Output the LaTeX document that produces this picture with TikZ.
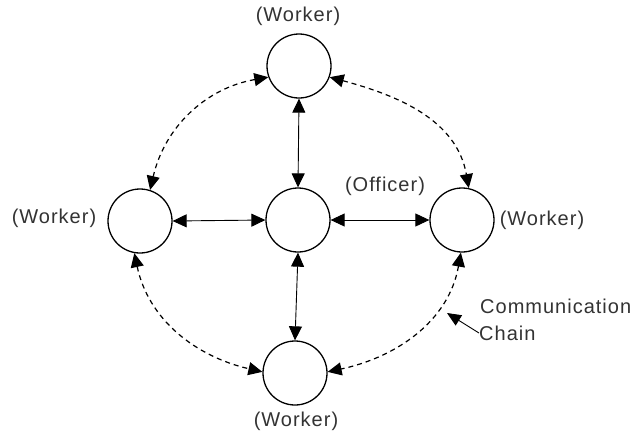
\documentclass[tikz,border=0pt]{standalone}
\usepackage{fontspec}
\newfontfamily\labfont[LetterSpace=5]{Liberation Sans}
\usetikzlibrary{arrows.meta}
\begin{document}
\begin{tikzpicture}[x=1pt,y=1pt,
  person/.style={circle,draw=black,line width=1.3pt,minimum size=64pt,inner sep=0pt},
  lab/.style={font=\labfont\fontsize{20}{22}\selectfont,text=black!80,inner sep=0pt},
  link/.style={draw=black,line width=0.9pt,{Triangle[length=14pt,width=13pt]}-{Triangle[length=14pt,width=13pt]}},
  chain/.style={draw=black,line width=1.2pt,dash pattern=on 5pt off 4pt,{Triangle[length=14pt,width=13pt]}-{Triangle[length=14pt,width=13pt]}}]
\useasboundingbox (0,0) rectangle (631,-437);
\fill[white] (0,0) rectangle (631,-437);
% nodes
\node[person] (O) at (298,-220) {};
\node[person] (T) at (299,-66) {};
\node[person] (L) at (140,-221) {};
\node[person] (R) at (462,-220) {};
\node[person] (B) at (295,-373) {};
% labels
\node[lab] (tl) at (298,-16) {(Worker)};
\node[lab] (ll) at (54,-218) {(Worker)};
\node[lab] (rl) at (542,-220) {(Worker)};
\node[lab] (bl) at (296,-421) {(Worker)};
\node[lab] (ol) at (385,-186) {(Officer)};
\node[lab,anchor=west] (c1) at (480,-306) {Communication};
\node[lab,anchor=west] (c2) at (479,-333) {Chain};
% solid links
\draw[link] (O.north) -- (T.south);
\draw[link] (O.west) -- (L.east);
\draw[link] (O.east) -- (R.west);
\draw[link] (O.south) -- (B.north);
% dashed chain
\draw[chain] (T.200) to[out=190,in=77] (L.72);
\draw[chain] (T.-20) to[out=-15,in=100] (R.78);
\draw[chain] (L.-100) to[out=-78,in=167] (B.178);
\draw[chain] (R.-92) to[out=-100,in=12] (B.2);
% pointer
\coordinate (cc) at (447,-313);
\draw[draw=black,line width=0.9pt,-{Triangle[length=14pt,width=12pt]}] (c2.west) -- (cc);
\end{tikzpicture}
\end{document}
